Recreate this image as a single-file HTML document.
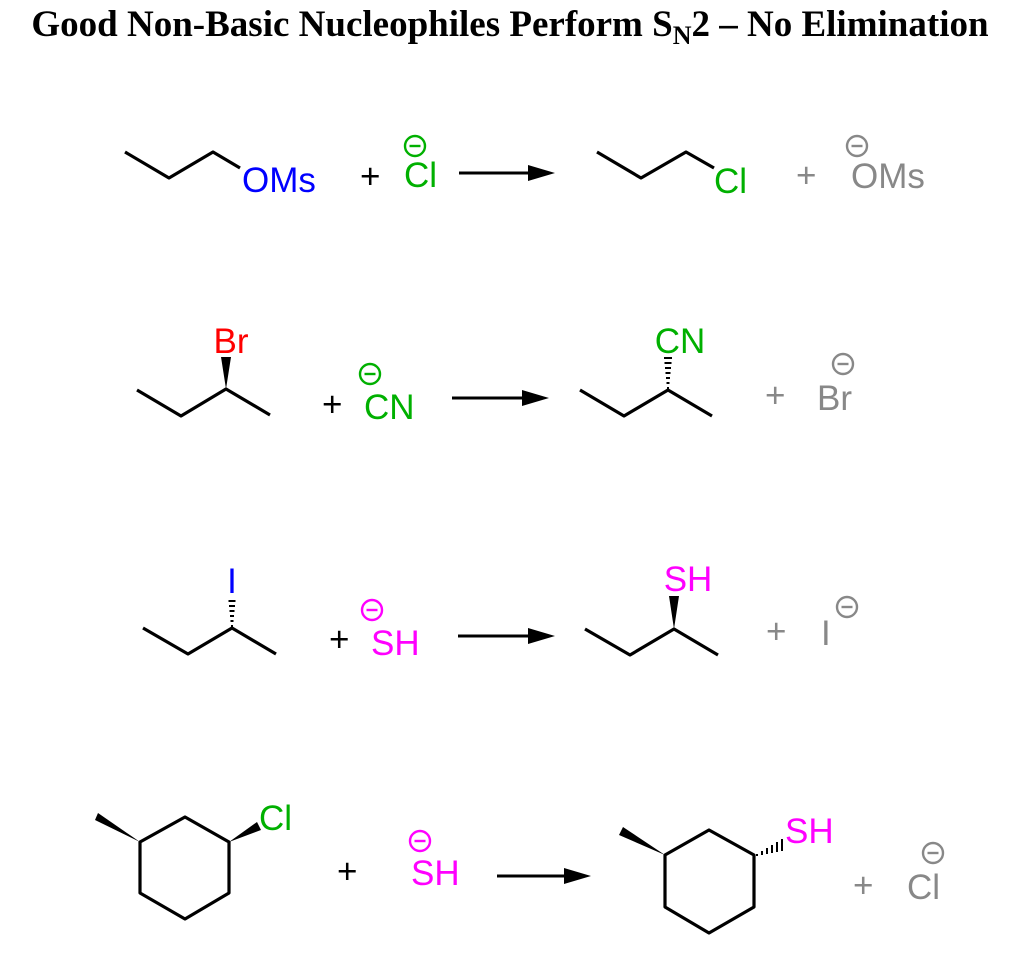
<!DOCTYPE html>
<html><head><meta charset="utf-8"><style>
body{margin:0;background:#fff}
svg{display:block}
.t{font-family:"Liberation Sans",sans-serif;font-size:35px}
.b{stroke:#000;stroke-width:3.2;fill:none;stroke-linejoin:round}
</style></head><body>
<svg width="1020" height="955" viewBox="0 0 1020 955" xmlns="http://www.w3.org/2000/svg">
<defs>
<g id="neg"><circle r="10" fill="none" stroke-width="2.4"/><line x1="-5.5" x2="5.5" y1="0" y2="0" stroke-width="2.4"/></g>
</defs>
<text x="510" y="36" text-anchor="middle" font-family="Liberation Serif,serif" font-weight="bold" font-size="37">Good Non-Basic Nucleophiles Perform S<tspan font-size="26" dy="8">N</tspan><tspan dy="-8">2 – No Elimination</tspan></text>

<!-- Row 1 -->
<polyline class="b" points="125,152 169,178 213,152 240,168"/>
<text class="t" x="242" y="192" fill="#0000ff">OMs</text>
<text class="t" x="360" y="188" fill="#000">+</text>
<use href="#neg" x="415" y="146" stroke="#00b000"/>
<text class="t" x="404" y="187" fill="#00b000">Cl</text>
<line x1="459" y1="173" x2="532" y2="173" stroke="#000" stroke-width="3"/>
<polygon points="555,173 528,165 528,181" fill="#000"/>
<polyline class="b" points="597,152 641,178 686,152 714,168"/>
<text class="t" x="714" y="193" fill="#00b000">Cl</text>
<text class="t" x="796" y="187" fill="#888">+</text>
<use href="#neg" x="857" y="146" stroke="#888"/>
<text class="t" x="851" y="188" fill="#888">OMs</text>

<!-- Row 2 -->
<polyline class="b" points="137,390 181,416 226,389 270,415"/>
<polygon points="226,389 221,357 231,357" fill="#000"/>
<text class="t" x="231" y="353" text-anchor="middle" fill="#ff0000">Br</text>
<text class="t" x="322" y="416" fill="#000">+</text>
<use href="#neg" x="370" y="374" stroke="#00b000"/>
<text class="t" x="364" y="419" fill="#00b000">CN</text>
<line x1="452" y1="398" x2="526" y2="398" stroke="#000" stroke-width="3"/>
<polygon points="549,398 522,390 522,406" fill="#000"/>
<polyline class="b" points="580,390 624,416 668,390 712,416"/>
<g stroke="#000" stroke-width="2">
<line x1="667" y1="388" x2="669" y2="388"/><line x1="666.5" y1="383" x2="669.5" y2="383"/><line x1="666" y1="378" x2="670" y2="378"/><line x1="665.5" y1="373" x2="670.5" y2="373"/><line x1="665" y1="368" x2="671" y2="368"/><line x1="664.5" y1="363" x2="671.5" y2="363"/><line x1="664" y1="358" x2="672" y2="358"/></g>
<text class="t" x="680" y="353" text-anchor="middle" fill="#00b000">CN</text>
<text class="t" x="765" y="407" fill="#888">+</text>
<use href="#neg" x="843" y="364" stroke="#888"/>
<text class="t" x="817" y="410" fill="#888">Br</text>

<!-- Row 3 -->
<polyline class="b" points="143,628 188,654 232,628 276,654"/>
<g stroke="#000" stroke-width="2">
<line x1="231" y1="626" x2="233" y2="626"/><line x1="230.5" y1="621" x2="233.5" y2="621"/><line x1="230" y1="616" x2="234" y2="616"/><line x1="229.5" y1="611" x2="234.5" y2="611"/><line x1="229" y1="606" x2="235" y2="606"/><line x1="228.5" y1="601" x2="235.5" y2="601"/></g>
<text class="t" x="232" y="593" text-anchor="middle" fill="#0000ff">I</text>
<text class="t" x="329" y="651" fill="#000">+</text>
<use href="#neg" x="372" y="610" stroke="#ff00ff"/>
<text class="t" x="371" y="655" fill="#ff00ff">SH</text>
<line x1="458" y1="636" x2="532" y2="636" stroke="#000" stroke-width="3"/>
<polygon points="555,636 528,628 528,644" fill="#000"/>
<polyline class="b" points="585,629 630,655 674,629 718,655"/>
<polygon points="674,629 669,596 679,596" fill="#000"/>
<text class="t" x="688" y="591" text-anchor="middle" fill="#ff00ff">SH</text>
<text class="t" x="766" y="643" fill="#888">+</text>
<text class="t" x="821" y="645" fill="#888">I</text>
<use href="#neg" x="847" y="607" stroke="#888"/>

<!-- Row 4 -->
<polygon class="b" points="185,817 229,842 229,893 185,919 140,893 140,842"/>
<polygon points="140,842 95,820 98,813" fill="#000"/>
<polygon points="229,842 257,822 261,830" fill="#000"/>
<text class="t" x="259" y="830" fill="#00b000">Cl</text>
<text class="t" x="337" y="883" fill="#000">+</text>
<use href="#neg" x="420" y="841" stroke="#ff00ff"/>
<text class="t" x="411" y="885" fill="#ff00ff">SH</text>
<line x1="497" y1="876" x2="568" y2="876" stroke="#000" stroke-width="3"/>
<polygon points="591,876 564,868 564,884" fill="#000"/>
<polygon class="b" points="709,830 754,855 754,907 709,933 665,907 665,855"/>
<polygon points="665,855 619,835 623,827" fill="#000"/>
<g stroke="#000" stroke-width="2">
<line x1="757" y1="854" x2="757" y2="856"/><line x1="762" y1="851" x2="762" y2="855"/><line x1="767" y1="848" x2="767" y2="854"/><line x1="772" y1="845" x2="772" y2="853"/><line x1="777" y1="842" x2="777" y2="852"/><line x1="782" y1="839" x2="782" y2="851"/></g>
<text class="t" x="785" y="843" fill="#ff00ff">SH</text>
<text class="t" x="853" y="897" fill="#888">+</text>
<use href="#neg" x="933" y="853" stroke="#888"/>
<text class="t" x="907" y="899" fill="#888">Cl</text>
</svg>
</body></html>
